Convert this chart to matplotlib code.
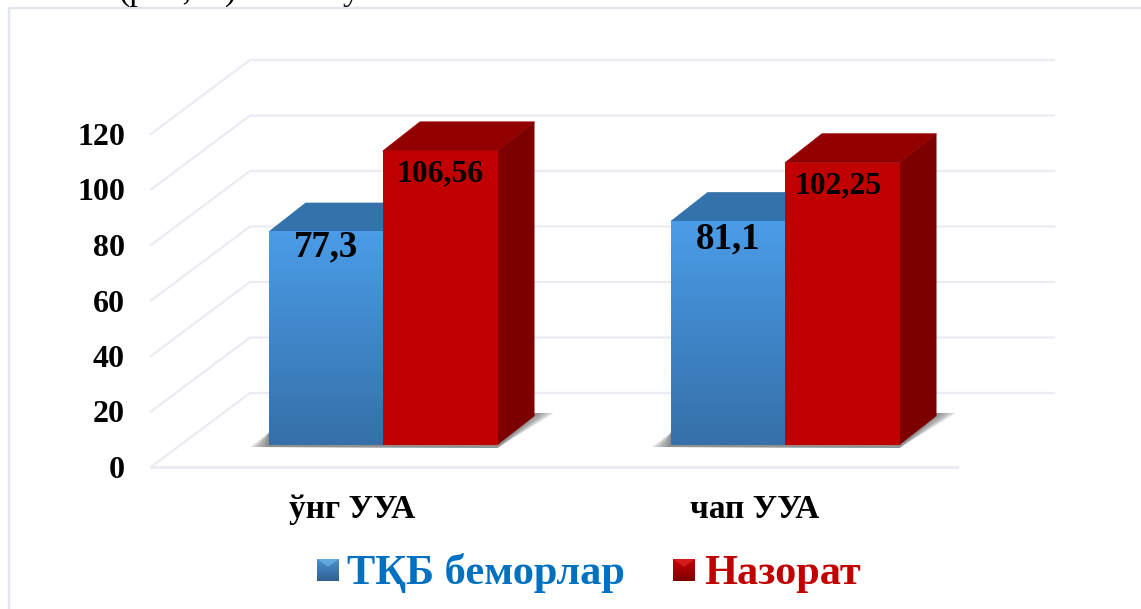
import numpy as np
import matplotlib
matplotlib.use("Agg")
import matplotlib.pyplot as plt
from matplotlib.colors import LinearSegmentedColormap
from matplotlib.patches import Polygon

plt.rcParams['font.family'] = ['Liberation Serif', 'DejaVu Serif']

categories = ["ўнг УУА", "чап УУА"]
series_names = ["ТҚБ беморлар", "Назорат"]
tkb_values = [77.3, 81.1]
nazorat_values = [106.56, 102.25]
tkb_labels = ["77,3", "81,1"]
nazorat_labels = ["106,56", "102,25"]
y_ticks = [0, 20, 40, 60, 80, 100, 120]

W, H = 1141, 609
# picture scales: one group = 402 px, one y unit = 2.775 px
sx = 402.0
sy = 2.775
x0_px = 383.0
y0_px = 467.0


# pixel helpers, only for layout
def X(px):
    return (px - x0_px) / sx


def Y(py):
    return (y0_px - py) / sy


def dx(px):
    return px / sx


def dy(py):
    return py / sy


fig = plt.figure(figsize=(W / 100, H / 100), dpi=100)
ax = fig.add_axes([0, 0, 1, 1])
ax.set_xlim(X(0), X(W))
ax.set_ylim(Y(H), Y(0))
for s in ax.spines.values():
    s.set_visible(False)

grid_c = '#eaecf2'
blue_grad = LinearSegmentedColormap.from_list('b', ['#3570a8', '#4a9ce8'])
mark_b = LinearSegmentedColormap.from_list('mb', ['#2f6090', '#4a90d0'])
mark_r = LinearSegmentedColormap.from_list('mr', ['#7c0000', '#c80000'])
ramp = np.linspace(1, 0, 64).reshape(-1, 1)

# frame
ax.plot([X(9), X(9), X(W)], [Y(H), Y(8.5), Y(8.5)], color='#e3e6ed', lw=1.7, zorder=1)

# walls and floor
for v in y_ticks:
    ax.plot([X(151), X(250), X(1054)], [v, v + dy(74), v + dy(74)],
            color=grid_c, lw=1.6, zorder=1)
ax.plot([X(151), X(957)], [0, 0], color=grid_c, lw=2, zorder=1)

# bars stand a little behind the front edge
bar_w = 114.5 / sx
floor = dy(22)
k = 0.9946
dep_x = dx(37)
dep_y = dy(29)

# label nudges in px, labels sit unevenly in the original
blue_drop = [15, 18]
red_drop = [23, 23]
red_shift = [0, -4]

for i in range(len(categories)):
    # shadow, nested so it darkens towards the bar
    for ins in [0, 4, 8, 12, 15]:
        ax.add_patch(Polygon([(i - bar_w - dx(18 - ins), floor - dy(2)),
                              (i + bar_w, floor - dy(3)),
                              (i + bar_w + dep_x + dx(19 - ins), floor + dy(32)),
                              (i - bar_w + dep_x, floor + dy(32)),
                              (i - bar_w, floor + dy(12))],
                             fc='#666666', alpha=0.22, ec='none', zorder=2))

    top_b = floor + tkb_values[i] * k
    top_r = floor + nazorat_values[i] * k

    # blue bar
    ax.add_patch(Polygon([(i - bar_w, top_b), (i, top_b), (i + dep_x, top_b + dep_y),
                          (i - bar_w + dep_x, top_b + dep_y)],
                         fc='#3372ab', ec='none', zorder=3))
    ax.imshow(ramp, cmap=blue_grad, aspect='auto', zorder=3.5, vmin=0, vmax=1,
              extent=(i - bar_w, i, floor, top_b))

    # red bar
    ax.add_patch(Polygon([(i, top_r), (i + bar_w, top_r), (i + bar_w + dep_x, top_r + dep_y),
                          (i + dep_x, top_r + dep_y)],
                         fc='#920000', ec='#a00000', lw=0.6, zorder=4))
    ax.add_patch(Polygon([(i + bar_w, floor), (i + bar_w + dep_x, floor + dep_y),
                          (i + bar_w + dep_x, top_r + dep_y), (i + bar_w, top_r)],
                         fc='#7c0000', ec='none', zorder=4))
    ax.bar(i + bar_w / 2, top_r - floor, bar_w, bottom=floor, color='#c00000', zorder=5)

    ax.text(i - bar_w / 2, top_b - dy(blue_drop[i]), tkb_labels[i], fontsize=26.6, fontweight='bold',
            ha='center', va='center', color='black', zorder=6)
    ax.text(i + bar_w / 2 + dx(red_shift[i]), top_r - dy(red_drop[i]), nazorat_labels[i], fontsize=22.8,
            fontweight='bold', ha='center', va='center', color='black', zorder=6)

# axis labels through the real ticks, pulled inside the full-figure axes
ax.set_yticks(y_ticks)
ax.set_yticklabels([str(v) for v in y_ticks], fontsize=23, fontweight='bold')
ax.tick_params(axis='y', length=0, pad=-125 * 0.72)
ax.set_xticks([i - dx(30.5) for i in range(len(categories))])
ax.set_xticklabels(categories, fontsize=24, fontweight='bold')
ax.tick_params(axis='x', length=0, pad=-(H - 494) * 0.72)

# legend
legend_x = [317, 673]
legend_text_x = [347, 704]
legend_c = ['#0070c0', '#c00000']
legend_top = ['#78bff0', '#e83030']
legend_cm = [mark_b, mark_r]
for n, name in enumerate(series_names):
    l = legend_x[n]
    ax.imshow(ramp, cmap=legend_cm[n], aspect='auto', zorder=5, vmin=0, vmax=1,
              extent=(X(l), X(l + 22), Y(581), Y(559)))
    ax.add_patch(Polygon([(X(l), Y(559)), (X(l + 22), Y(559)), (X(l + 11), Y(567))],
                         fc=legend_top[n], ec='none', alpha=0.55, zorder=6))
    ax.text(X(legend_text_x[n]), Y(584), name, fontsize=30.5, fontweight='bold', color=legend_c[n],
            ha='left', va='baseline', zorder=6)

# tail of the line of text above the chart, cut off by the picture edge
ax.text(X(118), Y(0), "(p<0,05)", fontsize=24.5, color='black', ha='left', va='baseline', clip_on=False)
ax.text(X(343), Y(0), "у", fontsize=24.5, color='black', ha='left', va='baseline', clip_on=False)

ax.set_xlim(X(0), X(W))
ax.set_ylim(Y(H), Y(0))
fig.savefig("out.png", dpi=100, facecolor='white')
